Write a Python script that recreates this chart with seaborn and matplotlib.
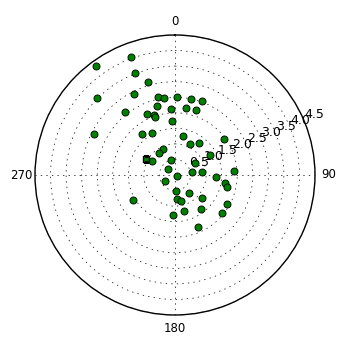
import numpy as np
import pandas as pd
import matplotlib
matplotlib.use("Agg")
import matplotlib.pyplot as plt
import seaborn as sns

# angles in degrees (clockwise from north) and radii
theta_deg = [324.3, 339.3, 338.9, 343.6, 314.9, 333.5, 347.5, 351.6, 345.1, 356.2,
             322.0, 335.1, 340.4, 340.7, 356.4, 296.9, 321.0, 331.0, 334.7, 323.5,
             302.4, 343.9, 310.0, 1.3, 11.6, 19.7, 9.0, 17.5, 11.0, 25.1,
             36.2, 53.3, 59.7, 59.0, 81.4, 83.1, 92.5, 85.8, 125.0, 238.3,
             99.3, 102.9, 177.1, 142.6, 175.7, 167.8, 130.6, 119.2, 142.9, 166.5,
             129.0, 183.5, 156.4, 239.7]
radius = [4.33, 4.04, 3.53, 3.13, 3.52, 2.92, 2.58, 2.51, 2.31, 2.14,
          2.59, 2.17, 2.06, 1.99, 1.75, 2.93, 1.71, 1.55, 0.93, 0.89,
          0.86, 0.51, 0.31, 2.51, 2.51, 2.54, 2.19, 2.20, 1.29, 1.11,
          1.29, 1.95, 1.29, 0.76, 0.54, 0.86, 1.32, 1.89, 0.07, 0.36,
          1.64, 1.71, 0.51, 0.72, 0.77, 0.85, 1.13, 1.90, 1.37, 1.19,
          1.93, 1.29, 1.82, 1.58]
mean_theta_deg = [299.4]
mean_radius = [1.06]

r_ticks = [0.5, 1.0, 1.5, 2.0, 2.5, 3.0, 3.5, 4.0, 4.5]
theta_ticks = [0, 90, 180, 270]
theta_labels = ['0', '90', '180', '270']

sns.set_style("white")
plt.rcParams['font.family'] = ['DejaVu Sans']
plt.rcParams['font.size'] = 8.5
plt.rcParams['text.color'] = 'black'
plt.rcParams['xtick.color'] = 'black'
plt.rcParams['ytick.color'] = 'black'

df = pd.DataFrame({"theta": np.deg2rad(theta_deg), "r": radius})
dm = pd.DataFrame({"theta": np.deg2rad(mean_theta_deg), "r": mean_radius})

fig = plt.figure(figsize=(3.5, 3.5), dpi=100)
ax = fig.add_axes([0.1, 0.1, 0.8, 0.8], polar=True)
ax.set_theta_zero_location('N')
ax.set_theta_direction(-1)

sns.scatterplot(data=df, x="theta", y="r", ax=ax, color="green", edgecolor="black",
                linewidth=0.6, s=26, zorder=3)
sns.scatterplot(data=dm, x="theta", y="r", ax=ax, color="green", edgecolor="black",
                linewidth=1.0, s=24, marker="s", zorder=4)

ax.set_ylim(0, 4.5)
ax.set_yticks(r_ticks)
ax.set_yticklabels([str(v) for v in r_ticks], fontsize=9)
ax.set_rlabel_position(67.5)
ax.set_thetagrids(theta_ticks, labels=theta_labels, fontsize=8.5)
ax.set_xlabel("")
ax.set_ylabel("")
ax.grid(True, color="black", linestyle=(0, (2, 6)), linewidth=0.5)
ax.spines['polar'].set_color('black')
ax.spines['polar'].set_linewidth(1.0)
ax.tick_params(axis='x', pad=3.0, length=0, labelcolor='black')
ax.tick_params(axis='y', pad=0, length=0, labelcolor='black')
for lab in ax.get_yticklabels():
    lab.set_ha('left')
    lab.set_va('bottom')

fig.savefig("out.png", dpi=100, facecolor="white")
